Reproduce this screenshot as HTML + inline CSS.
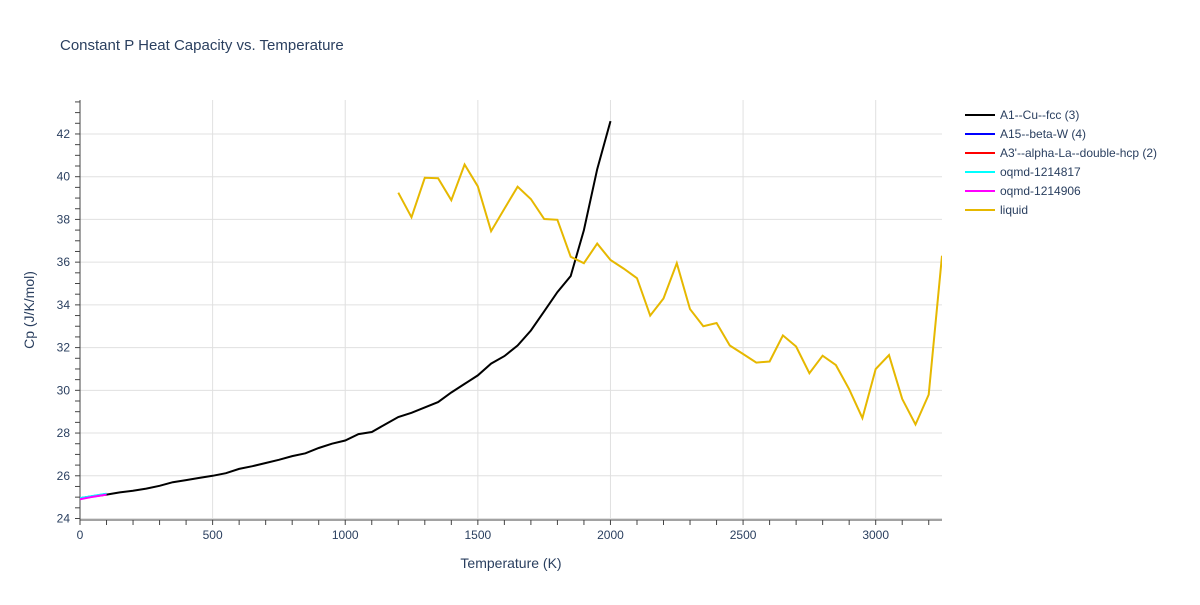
<!DOCTYPE html>
<html><head><meta charset="utf-8"><style>
body{margin:0;background:#fff;font-family:"Liberation Sans",sans-serif;}
text{font-family:"Liberation Sans",sans-serif;}
</style></head><body>
<svg id="chart" width="1200" height="600">
<text x="60" y="50" font-size="15" fill="#2a3f5f">Constant P Heat Capacity vs. Temperature</text>
<g id="grid"></g><g id="axes"></g><g id="series"></g><g id="legend"></g>
<text x="511" y="568" font-size="14" fill="#2a3f5f" text-anchor="middle">Temperature (K)</text>
<text transform="translate(34,310) rotate(-90)" font-size="14" fill="#2a3f5f" text-anchor="middle">Cp (J/K/mol)</text>
</svg>
<script>
const xTicks=[0,500,1000,1500,2000,2500,3000];
const yTicks=[24,26,28,30,32,34,36,38,40,42];
const fccT=[0,50,100,150,200,250,300,350,400,450,500,550,600,650,700,750,800,850,900,950,1000,1050,1100,1150,1200,1250,1300,1350,1400,1450,1500,1550,1600,1650,1700,1750,1800,1850,1900,1950,2000];
const fccCp=[24.95,25.05,25.12,25.22,25.3,25.4,25.53,25.7,25.8,25.9,26.0,26.12,26.32,26.45,26.6,26.75,26.92,27.05,27.3,27.5,27.65,27.95,28.05,28.4,28.75,28.95,29.2,29.45,29.9,30.3,30.7,31.25,31.6,32.1,32.8,33.7,34.6,35.35,37.5,40.35,42.6];
const smallT=[0,50,100];
const a15Cp=[24.95,25.05,25.15];
const a3Cp=[24.93,25.03,25.12];
const oq1Cp=[24.95,25.06,25.16];
const oq2Cp=[24.9,25.02,25.12];
const liqT=[1200,1250,1300,1350,1400,1450,1500,1550,1600,1650,1700,1750,1800,1850,1900,1950,2000,2050,2100,2150,2200,2250,2300,2350,2400,2450,2500,2550,2600,2650,2700,2750,2800,2850,2900,2950,3000,3050,3100,3150,3200,3250];
const liqCp=[39.25,38.1,39.95,39.93,38.9,40.57,39.55,37.45,38.5,39.53,38.95,38.02,37.98,36.25,35.95,36.87,36.1,35.7,35.25,33.5,34.3,35.95,33.8,33.0,33.15,32.1,31.7,31.3,31.35,32.57,32.05,30.8,31.62,31.18,30.05,28.7,31.0,31.65,29.6,28.4,29.8,36.3];
const names=["A1--Cu--fcc (3)","A15--beta-W (4)","A3'--alpha-La--double-hcp (2)","oqmd-1214817","oqmd-1214906","liquid"];
const colors=["#000000","#0000ff","#ff0000","#00ffff","#ff00ff","#e6b800"];
const L=80,R=942,T=100,B=520,X0=0,X1=3250,Y0=23.93,Y1=43.59;
const sx=v=>L+(v-X0)/(X1-X0)*(R-L), sy=v=>B-(v-Y0)/(Y1-Y0)*(B-T);
const NS="http://www.w3.org/2000/svg";
function mk(p,t,a){const e=document.createElementNS(NS,t);for(const k in a)e.setAttribute(k,a[k]);p.appendChild(e);return e;}
const grid=document.getElementById('grid'),axes=document.getElementById('axes'),ser=document.getElementById('series'),leg=document.getElementById('legend');
xTicks.forEach(v=>{const g=mk(grid,'line',{x1:sx(v),x2:sx(v),y1:T,y2:B,stroke:'#e0e0e0','stroke-width':1});

const t=mk(axes,'text',{x:sx(v),y:B+19,'font-size':12,fill:'#2a3f5f','text-anchor':'middle'});t.textContent=v;
});
yTicks.forEach(v=>{const g=mk(grid,'line',{x1:L,x2:R,y1:sy(v),y2:sy(v),stroke:'#e0e0e0','stroke-width':1});

const t=mk(axes,'text',{x:L-10,y:sy(v)+4,'font-size':12,fill:'#2a3f5f','text-anchor':'end'});t.textContent=v;
});
for(let v=0;v<=3200;v+=100){const m=mk(axes,'line',{x1:sx(v),x2:sx(v),y1:B,y2:B+5,stroke:'#444'});}
for(let v=24;v<=43.5;v+=0.5){const m=mk(axes,'line',{x1:L-5,x2:L,y1:sy(v),y2:sy(v),stroke:'#444'});}
let ax=mk(axes,'line',{x1:L,x2:R,y1:B,y2:B,stroke:'#444'});
ax=mk(axes,'line',{x1:L,x2:L,y1:T,y2:B,stroke:'#444'});
const all=[[fccT,fccCp],[smallT,a15Cp],[smallT,a3Cp],[smallT,oq1Cp],[smallT,oq2Cp],[liqT,liqCp]];
const clip=mk(ser,'clipPath',{id:'pc'});mk(clip,'rect',{x:L,y:T,width:R-L,height:B-T});
[0,1,2,3,4,5].forEach(i=>{const [xs,ys]=all[i];const d=xs.map((x,j)=>(j?'L':'M')+sx(x).toFixed(1)+','+sy(ys[j]).toFixed(1)).join('');
const p=mk(ser,'path',{d:d,fill:'none',stroke:colors[i],'stroke-width':2,'clip-path':'url(#pc)'});
});
names.forEach((n,i)=>{const y=115+i*19;const g=mk(leg,'g',{});

mk(g,'line',{x1:965,x2:995,y1:y,y2:y,stroke:colors[i],'stroke-width':2});
const t=mk(g,'text',{x:1000,y:y+4,'font-size':12,fill:'#2a3f5f'});t.textContent=n;});
</script>
</body></html>
